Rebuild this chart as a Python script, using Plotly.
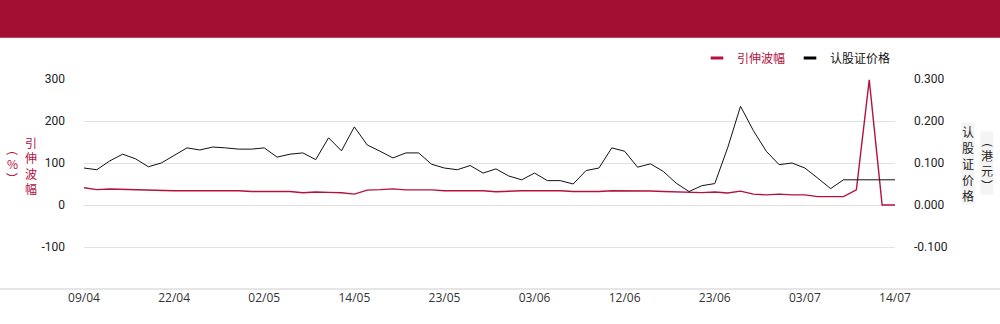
import plotly.graph_objects as go

dates = ["09/04","10/04","11/04","14/04","15/04","16/04","17/04","22/04","23/04","24/04",
         "25/04","28/04","29/04","30/04","02/05","06/05","07/05","08/05","09/05","12/05",
         "13/05","14/05","15/05","16/05","19/05","20/05","21/05","22/05","23/05","26/05",
         "27/05","28/05","29/05","30/05","02/06","03/06","04/06","05/06","06/06","09/06",
         "10/06","11/06","12/06","13/06","16/06","17/06","18/06","19/06","20/06","23/06",
         "24/06","25/06","26/06","27/06","30/06","02/07","03/07","04/07","07/07","08/07",
         "09/07","10/07","11/07","14/07"]

implied_vol = [41, 36.5, 38, 37, 36.5, 36, 34, 34, 34, 34,
               34, 34, 34, 32, 32, 32, 32, 29, 31, 30,
               29, 26, 35.5, 36.5, 38.5, 36, 36, 36, 34, 34,
               34, 34, 31.5, 33, 34, 34, 34, 34, 32, 32,
               32, 34, 34, 34, 33.5, 32, 31, 31, 29.5, 31,
               28.5, 33, 26, 24, 26, 24, 24, 20, 20, 20,
               36, 298, 0, 0]

warrant_price = [0.088, 0.084, 0.105, 0.121, 0.110, 0.091, 0.100, 0.119, 0.136, 0.131,
                 0.138, 0.136, 0.133, 0.133, 0.136, 0.114, 0.121, 0.124, 0.108, 0.160,
                 0.129, 0.186, 0.143, 0.128, 0.112, 0.124, 0.124, 0.097, 0.088, 0.084,
                 0.094, 0.076, 0.086, 0.069, 0.060, 0.076, 0.058, 0.058, 0.050, 0.082,
                 0.088, 0.136, 0.128, 0.090, 0.098, 0.080, 0.052, 0.032, 0.046, 0.051,
                 0.136, 0.235, 0.177, 0.128, 0.096, 0.100, 0.088, 0.064, 0.039, 0.060,
                 0.060, 0.060, 0.060, 0.060]

x_ticks = ["09/04","22/04","02/05","14/05","23/05","03/06","12/06","23/06","03/07","14/07"]
left_ticks = [-100, 0, 100, 200, 300]
right_ticks = [-0.1, 0.0, 0.1, 0.2, 0.3]

left_title = ["引", "伸", "波", "幅"]
left_unit = ["︵", "%", "︶"]
right_title = ["认", "股", "证", "价", "格"]
right_unit = ["︵", "港", "元", "︶"]

RED = "#B3123F"
BLACK = "#111111"
HEADER = "#A30F33"
CJK = "Noto Sans CJK SC"

W, H = 1000, 324
L, R, T, B = 84, 105, 79, 35
pw, ph = W - L - R, H - T - B

def px_x(p):
    return (p - L) / pw

def px_y(p):
    return (H - B - p) / ph

fig = go.Figure()
fig.add_trace(go.Scatter(x=dates, y=implied_vol, mode="lines", name="引伸波幅",
                         line=dict(color=RED, width=1.4), showlegend=False, yaxis="y"))
fig.add_trace(go.Scatter(x=dates, y=warrant_price, mode="lines", name="认股证价格",
                         line=dict(color=BLACK, width=1), showlegend=False, yaxis="y2"))
# legend entries
fig.add_trace(go.Scatter(x=[None], y=[None], mode="markers",
                         name="<span style='color:%s'>引伸波幅</span>" % RED,
                         marker=dict(symbol="line-ew", size=9, line=dict(color=RED, width=3))))
fig.add_trace(go.Scatter(x=[None], y=[None], mode="markers",
                         name="<span style='color:#111'>认股证价格</span>",
                         marker=dict(symbol="line-ew", size=9, line=dict(color="#000", width=3))))

annotations = []

def stack(chars, cx, y_start, step, color, bg=None):
    for i, ch in enumerate(chars):
        a = dict(xref="paper", yref="paper", x=px_x(cx), y=px_y(y_start + i * step),
                 xanchor="center", yanchor="middle", text=ch, showarrow=False,
                 font=dict(family=CJK, size=12, color=color), borderpad=0)
        if bg:
            a["bgcolor"] = bg
        annotations.append(a)

stack(left_title, 31, 142, 15.5, RED)
stack(left_unit, 12, 148, 15, RED)
stack(right_title, 968, 131, 16, "#222", "#f4f4f4")
stack(right_unit, 987, 140, 15, "#222", "#f4f4f4")

fig.update_layout(
    width=W, height=H,
    margin=dict(l=L, r=R, t=T, b=B, pad=0),
    paper_bgcolor="white", plot_bgcolor="white",
    font=dict(family="Roboto, " + CJK, size=12, color="#222"),
    xaxis=dict(type="category", range=[0, len(dates) - 1], tickvals=x_ticks, ticktext=x_ticks,
               showgrid=False, zeroline=False, showline=False, ticks="",
               tickfont=dict(family="Open Sans, " + CJK, size=12, color="#333")),
    yaxis=dict(range=[-200, 300], tickvals=left_ticks, ticktext=[str(v) for v in left_ticks],
               showgrid=True, gridcolor="#e2e2e2", gridwidth=1, zeroline=False,
               ticks="", ticklabelstandoff=18, tickfont=dict(size=12, color="#222")),
    yaxis2=dict(range=[-0.2, 0.3], overlaying="y", side="right", tickvals=right_ticks,
                ticktext=["%.3f" % v for v in right_ticks], showgrid=False, zeroline=False,
                ticks="", ticklabelstandoff=18, tickfont=dict(size=12, color="#222")),
    legend=dict(orientation="h", x=px_x(697), xanchor="left", y=px_y(58), yanchor="middle",
                font=dict(family=CJK, size=12), bgcolor="rgba(0,0,0,0)",
                itemclick=False, tracegroupgap=0),
    shapes=[
        dict(type="rect", xref="paper", yref="paper", x0=px_x(0), x1=px_x(W),
             y0=px_y(37.7), y1=px_y(0), fillcolor=HEADER, line=dict(width=0), layer="below"),
        dict(type="line", xref="paper", yref="paper", x0=px_x(0), x1=px_x(W),
             y0=0, y1=0, line=dict(color="#cccccc", width=1)),
    ],
    annotations=annotations,
)

fig.write_html("out.html")
